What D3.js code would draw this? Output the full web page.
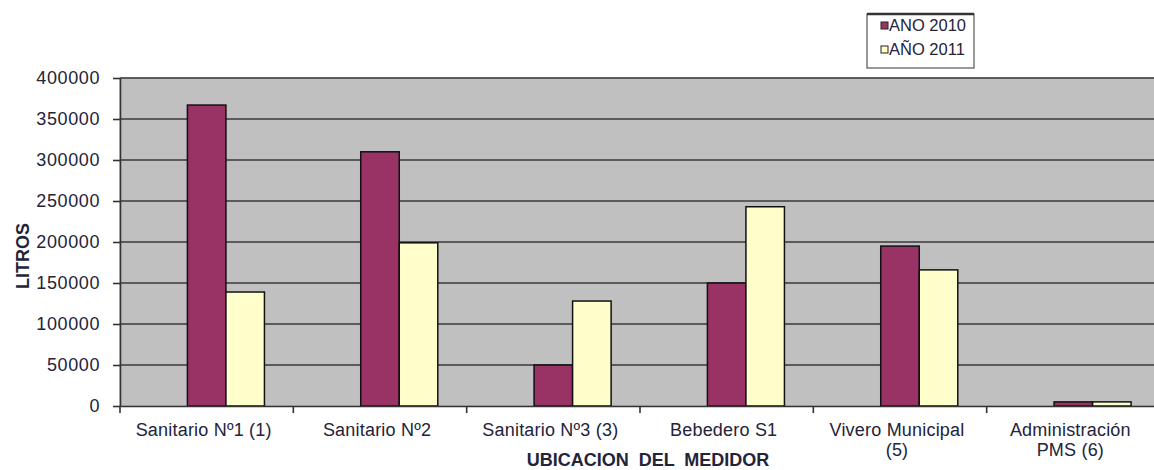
<!DOCTYPE html>
<html>
<head>
<meta charset="utf-8">
<script src="https://cdn.jsdelivr.net/npm/d3@7"></script>
<style>
  body { margin: 0; background: #fff; }
  svg text { font-family: "Liberation Sans", Arial, sans-serif; fill: #23233a; }
</style>
</head>
<body>
<div id="chart"></div>
<script>
var width = 1154,
    height = 470;

// data
var categories = ["Sanitario N\u00ba1 (1)", "Sanitario N\u00ba2", "Sanitario N\u00ba3 (3)", "Bebedero S1", "Vivero Municipal|(5)", "Administraci\u00f3n|PMS (6)"];
var seriesNames = ["ANO 2010", "A\u00d1O 2011"];
var values2010 = [367000, 310000, 50000, 150000, 195000, 5000];
var values2011 = [139000, 199000, 128000, 243000, 166000, 5000];
var yTicks = [0, 50000, 100000, 150000, 200000, 250000, 300000, 350000, 400000];

var colors = ["#993366", "#ffffcc"];
var margin = {top: 78, right: -6, bottom: 64, left: 120};
var innerW = width - margin.left - margin.right,
    innerH = height - margin.top - margin.bottom;

var svg = d3.select("#chart").append("svg")
    .attr("width", width)
    .attr("height", height);

var g = svg.append("g")
    .attr("transform", "translate(" + margin.left + "," + margin.top + ")");

var x0 = d3.scaleBand()
    .domain(categories)
    .range([0, innerW])
    .padding(0);

// three slots per category, the first one is left empty (like the original sheet)
var x1 = d3.scaleBand()
    .domain([0, 1, 2])
    .range([0, x0.bandwidth()])
    .paddingInner(0)
    .paddingOuter(0.75);

var y = d3.scaleLinear()
    .domain([0, 400000])
    .range([innerH, 0]);

// plot background
g.append("rect")
    .attr("width", innerW)
    .attr("height", innerH)
    .attr("fill", "#c0c0c0")
    .attr("stroke", "#a8a8a8");

// gridlines
g.selectAll(".grid")
    .data(yTicks.filter(function(d){ return d > 0; }))
    .enter().append("line")
    .attr("x1", 0)
    .attr("x2", innerW)
    .attr("y1", function(d){ return y(d); })
    .attr("y2", function(d){ return y(d); })
    .attr("stroke", "#3a3a3a")
    .attr("stroke-width", 1.6);

// bars
var rows = categories.map(function(c, i){ return {cat: c, vals: [values2010[i], values2011[i]]}; });

var groups = g.selectAll(".cat")
    .data(rows)
    .enter().append("g")
    .attr("transform", function(d){ return "translate(" + x0(d.cat) + ",0)"; });

groups.selectAll("rect")
    .data(function(d){ return d.vals; })
    .enter().append("rect")
    .attr("x", function(d, i){ return x1(i + 1); })
    .attr("width", x1.bandwidth())
    .attr("y", function(d){ return y(d); })
    .attr("height", function(d){ return innerH - y(d); })
    .attr("fill", function(d, i){ return colors[i]; })
    .attr("stroke", "#111")
    .attr("stroke-width", 1.5);

// y axis
var yAxis = g.append("g")
    .call(d3.axisLeft(y).tickValues(yTicks).tickFormat(d3.format("d")).tickSize(7).tickSizeOuter(0));
yAxis.select(".domain").attr("stroke", "#333").attr("stroke-width", 1.6);
yAxis.selectAll(".tick line").attr("stroke", "#333").attr("stroke-width", 1.6);
yAxis.selectAll(".tick text")
    .attr("x", -20)
    .style("font-size", "18px")
    .style("letter-spacing", "0.6px")
    .style("font-family", "Liberation Sans, Arial, sans-serif")
    .attr("fill", "#23233a");

// x axis
var xAxis = g.append("g")
    .attr("transform", "translate(0," + innerH + ")")
    .call(d3.axisBottom(x0).tickSize(0).tickSizeOuter(0));
xAxis.select(".domain").attr("stroke", "#333").attr("stroke-width", 1.6);
xAxis.selectAll(".tick text").remove();

// boundary ticks between categories
xAxis.selectAll(".btick")
    .data(categories)
    .enter().append("line")
    .attr("x1", function(d){ return x0(d); })
    .attr("x2", function(d){ return x0(d); })
    .attr("y1", 0)
    .attr("y2", 7)
    .attr("stroke", "#333")
    .attr("stroke-width", 1.6);

// category labels, two lines where needed
xAxis.selectAll(".lbl")
    .data(categories)
    .enter().append("text")
    .attr("text-anchor", "middle")
    .attr("transform", function(d){ return "translate(" + (x0(d) + x0.bandwidth() / 2 - 3) + ",30)"; })
    .style("font-size", "18px")
    .style("letter-spacing", "0.2px")
    .each(function(d){
        var t = d3.select(this);
        d.split("|").forEach(function(line, i){
            t.append("tspan").attr("x", 0).attr("dy", i === 0 ? 0 : 20).text(line);
        });
    });

// axis titles
svg.append("text")
    .attr("x", 648)
    .attr("y", 466)
    .attr("text-anchor", "middle")
    .style("font-size", "18px")
    .style("font-weight", "bold")
    .style("word-spacing", "5px")
    .text("UBICACION DEL MEDIDOR");

svg.append("text")
    .attr("transform", "translate(29," + (margin.top + innerH / 2 + 14) + ") rotate(-90)")
    .attr("text-anchor", "middle")
    .style("font-size", "18px")
    .style("font-weight", "bold")
    .text("LITROS");

// legend
var legend = svg.append("g").attr("transform", "translate(867,14)");
legend.append("rect")
    .attr("width", 107)
    .attr("height", 54)
    .attr("fill", "#fff")
    .attr("stroke", "#555")
    .attr("stroke-width", 1.2);
legend.append("line")
    .attr("x1", 0).attr("x2", 107)
    .attr("y1", 0).attr("y2", 0)
    .attr("stroke", "#333")
    .attr("stroke-width", 2.5);

var items = legend.selectAll(".item")
    .data(seriesNames)
    .enter().append("g")
    .attr("transform", function(d, i){ return "translate(0," + (i * 24) + ")"; });
items.append("rect")
    .attr("x", 14)
    .attr("y", 8)
    .attr("width", 7)
    .attr("height", 7)
    .attr("fill", function(d, i){ return colors[i]; })
    .attr("stroke", "#222")
    .attr("stroke-width", 1);
items.append("text")
    .attr("x", 22)
    .attr("y", 17)
    .style("font-size", "16.5px")
    .text(function(d){ return d; });
</script>
</body>
</html>
